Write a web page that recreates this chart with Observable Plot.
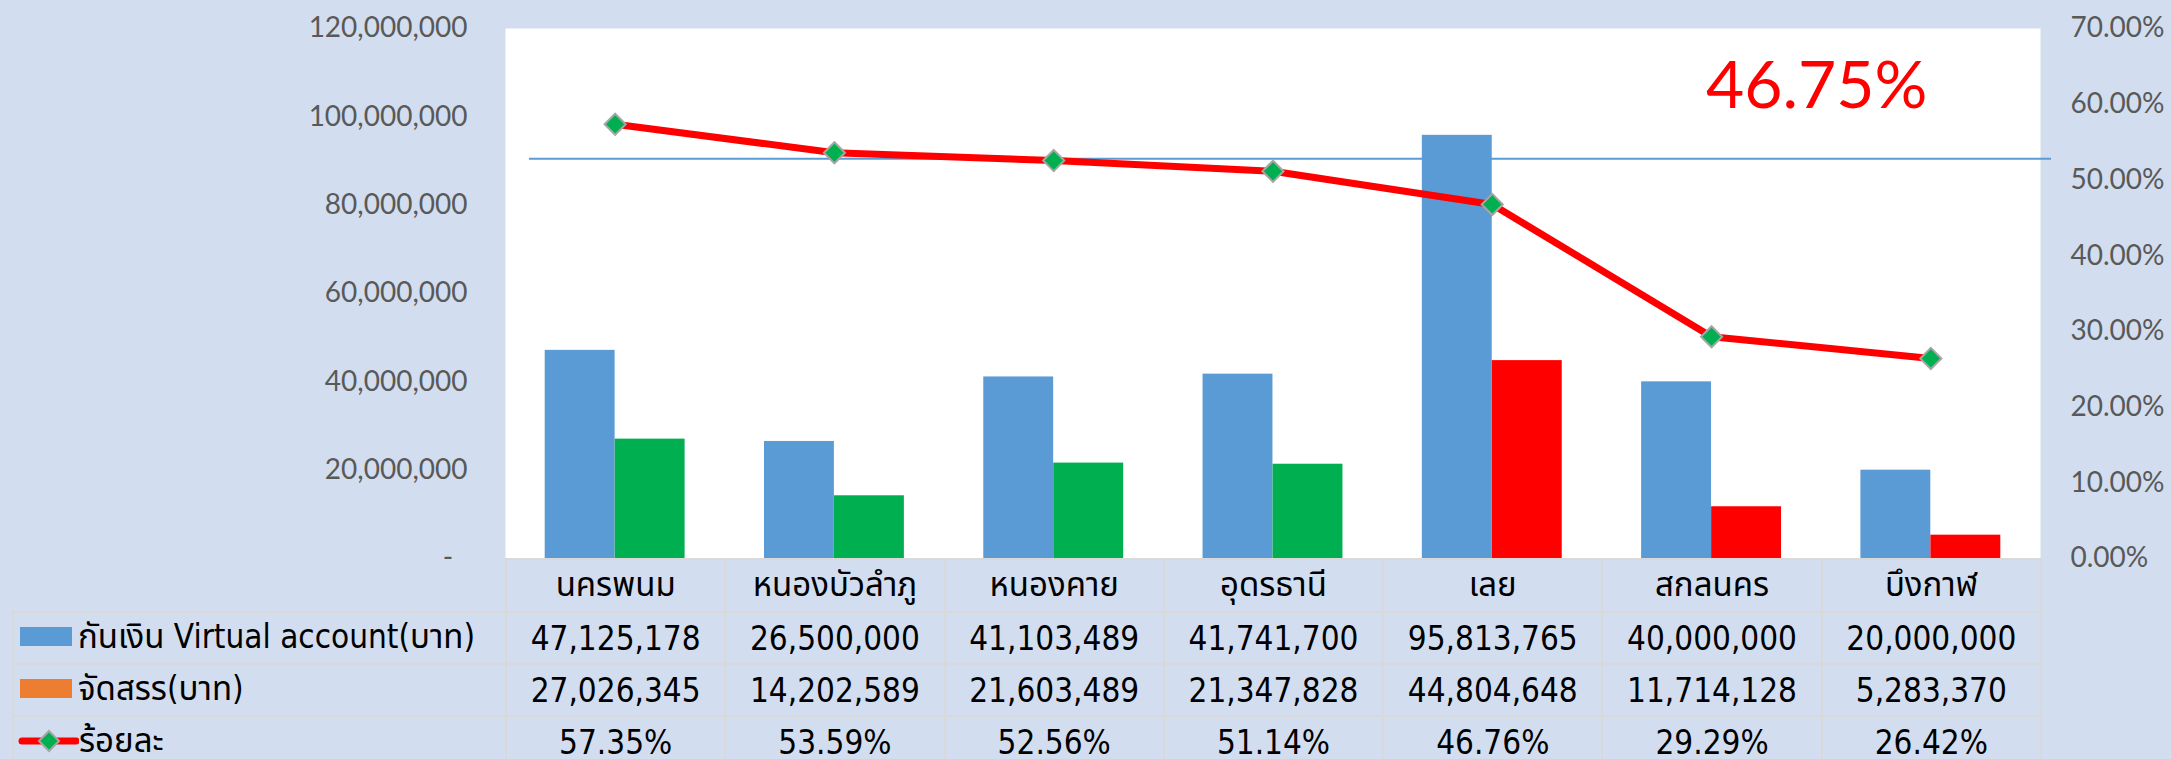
<!DOCTYPE html>
<html>
<head>
<meta charset="utf-8">
<script src="https://cdn.jsdelivr.net/npm/d3@7"></script>
<script src="https://cdn.jsdelivr.net/npm/@observablehq/plot@0.6"></script>
<style>
  html, body { margin: 0; padding: 0; background: #d2deef; width: 2171px; height: 759px; overflow: hidden; }
  #wrap { position: relative; width: 2171px; height: 759px; }
  #chart svg { display: block; overflow: visible; background: transparent; }
  #datatable {
    position: absolute; left: 12px; top: 558px;
    border-collapse: collapse; table-layout: fixed;
    font-family: "DejaVu Sans Condensed", "DejaVu Sans", "Noto Sans Thai", "Noto Sans", sans-serif;
    font-size: 33px; color: #000;
  }
  #datatable td { border: 2.5px solid #d9d9d9; padding: 0; text-align: center; white-space: nowrap; vertical-align: middle; overflow: hidden; }
  #datatable tr { height: 51px; }
  #datatable td.lbl { text-align: left; }
  #datatable td.blank { border-top: none; border-left: none; }
  .sw { display: inline-block; width: 52px; height: 19px; margin-left: 6px; margin-right: 6px; vertical-align: middle; position: relative; top: -2px; }
  .lg { display: inline-block; vertical-align: middle; margin-left: 3px; margin-right: 0px; position: relative; top: -2px; }
</style>
</head>
<body>
<div id="wrap">
  <div id="chart"></div>
</div>
<script>
// ---- data ----
const provinces = ["นครพนม", "หนองบัวลำภู", "หนองคาย", "อุดรธานี", "เลย", "สกลนคร", "บึงกาฬ"];
const virtualAccount = [47125178, 26500000, 41103489, 41741700, 95813765, 40000000, 20000000];
const allocated = [27026345, 14202589, 21603489, 21347828, 44804648, 11714128, 5283370];
const percent = [0.5735, 0.5359, 0.5256, 0.5114, 0.4676, 0.2929, 0.2642];
const seriesNames = ["กันเงิน Virtual account(บาท)", "จัดสรร(บาท)", "ร้อยละ"];
const moneyTicks = [0, 20000000, 40000000, 60000000, 80000000, 100000000, 120000000];
const percentTicks = [0, 0.1, 0.2, 0.3, 0.4, 0.5, 0.6, 0.7];
const overallLabel = ["46.75%"];
const referenceLevel = [0.528];

// ---- styling ----
const blue = "#5b9bd5", green = "#00b050", red = "#ff0000", orange = "#ed7d31";
const moneyMax = moneyTicks[moneyTicks.length - 1];
const pctMax = percentTicks[percentTicks.length - 1];
const k = moneyMax / pctMax; // maps percent onto the money scale (secondary axis)

const rows = provinces.map((p, i) => ({p, va: virtualAccount[i], al: allocated[i], pct: percent[i]}));
const fmtMoney = d3.format(",");

const chart = Plot.plot({
  width: 2171,
  height: 575,
  marginLeft: 505,
  marginRight: 131,
  marginTop: 28,
  marginBottom: 17,
  style: {background: "transparent", overflow: "visible", fontFamily: "Lato, sans-serif"},
  x: {domain: provinces, paddingInner: 0.362, paddingOuter: 0.181, round: false, axis: null},
  y: {domain: [0, moneyMax], axis: null},
  color: {type: "identity"},
  marks: [
    Plot.frame({fill: "white", stroke: null}),
    Plot.barY(rows, {x: "p", y: "va", fill: blue, insetRight: 70}),
    Plot.barY(rows, {x: "p", y: "al", fill: d => d.pct >= 0.5 ? green : red, insetLeft: 70}),
    Plot.ruleY(referenceLevel, {y: d => d * k, stroke: blue, strokeWidth: 2, insetLeft: 24, insetRight: -11}),
    Plot.line(rows, {x: "p", y: d => d.pct * k, stroke: red, strokeWidth: 7, strokeLinejoin: "round"}),
    Plot.dot(rows, {x: "p", y: d => d.pct * k, symbol: "diamond2", r: 9.5, fill: green, stroke: "#a5a5a5", strokeWidth: 2}),
    Plot.text(overallLabel, {frameAnchor: "top-right", text: d => d, textAnchor: "end", lineAnchor: "top",
      dx: -113, dy: 33, fontSize: 66, fill: red, fontFamily: "Lato, sans-serif"}),
    Plot.axisY(moneyTicks, {anchor: "left", tickSize: 0, tickPadding: 38, label: null,
      tickFormat: d => d === 0 ? "-\u00a0\u00a0" : fmtMoney(d), fontSize: 28, color: "#595959"}),
    Plot.axisY(percentTicks.map(p => p * k), {anchor: "right", tickSize: 0, tickPadding: 30, label: null,
      tickFormat: v => (v / k * 100).toFixed(2) + "%", fontSize: 28, color: "#595959"})
  ]
});
document.getElementById("chart").appendChild(chart);

// ---- data table below the chart ----
const table = d3.select("#wrap").append("table").attr("id", "datatable");
const cg = table.append("colgroup");
cg.append("col").style("width", "493px");
provinces.forEach(() => cg.append("col").style("width", (1535 / provinces.length) + "px"));

const head = table.append("tr").style("height", "53px");
head.append("td").attr("class", "blank");
provinces.forEach(p => head.append("td").text(p));

function legendCell(tr, i) {
  const td = tr.append("td").attr("class", "lbl");
  if (i < 2) {
    td.append("span").attr("class", "sw").style("background", i === 0 ? blue : orange);
  } else {
    const svg = td.append("svg").attr("class", "lg").attr("width", 62).attr("height", 26);
    svg.append("line").attr("x1", 5).attr("x2", 59).attr("y1", 13).attr("y2", 13)
      .attr("stroke", red).attr("stroke-width", 7).attr("stroke-linecap", "round");
    svg.append("path").attr("d", "M32,3 L42,13 L32,23 L22,13 Z")
      .attr("fill", green).attr("stroke", "#a5a5a5").attr("stroke-width", 2);
  }
  td.append("span").text(seriesNames[i]);
}

const r1 = table.append("tr"); legendCell(r1, 0);
virtualAccount.forEach(v => r1.append("td").text(fmtMoney(v)));
const r2 = table.append("tr"); legendCell(r2, 1);
allocated.forEach(v => r2.append("td").text(fmtMoney(v)));
const r3 = table.append("tr"); legendCell(r3, 2);
percent.forEach(v => r3.append("td").text((v * 100).toFixed(2) + "%"));
</script>
</body>
</html>
